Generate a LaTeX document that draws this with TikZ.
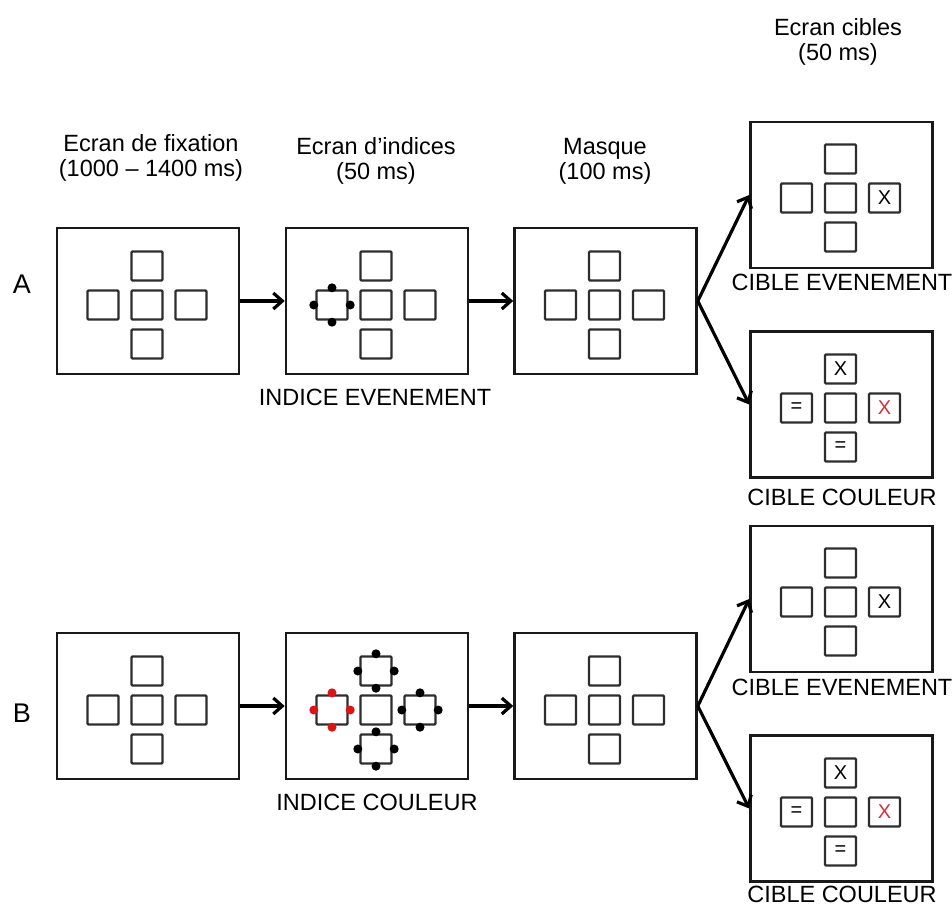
\documentclass[tikz,border=0pt]{standalone}
\usepackage{fontspec}
\setmainfont{Liberation Sans}
\usepackage{tikz}
\usetikzlibrary{arrows.meta,positioning}
\definecolor{framegray}{RGB}{25,25,25}
\definecolor{boxgray}{RGB}{45,45,45}
\definecolor{cuered}{RGB}{222,20,20}
\definecolor{targetred}{RGB}{214,48,62}

\tikzset{
  screen/.style={draw=framegray, line width=2.6pt, minimum width=182pt, minimum height=146pt, inner sep=0pt},
  placebox/.style={draw=boxgray, line width=2.4pt, minimum width=31pt, minimum height=29pt, inner sep=0pt, rounded corners=1pt},
  cuedot/.style={circle, inner sep=0pt, minimum size=9pt},
  glyph/.style={font=\fontsize{20}{20}\selectfont, inner sep=0pt},
  caption/.style={font=\fontsize{23.5}{25}\selectfont, align=center, inner sep=0pt},
  flow/.style={line width=3.2pt, -{Straight Barb[length=9pt,width=16pt]}},
}

% five placeholders in a cross: name, x, y
\newcommand{\placecross}[3]{%
  \node[placebox] (#1-c) at (#2,#3) {};
  \node[placebox] (#1-n) at (#2,#3-39) {};
  \node[placebox] (#1-s) at (#2,#3+39) {};
  \node[placebox] (#1-w) at (#2-44,#3) {};
  \node[placebox] (#1-e) at (#2+44,#3) {};
}
% four cue dots round one placeholder: node, colour
\newcommand{\cuedots}[2]{%
  \node[cuedot, fill=#2] (#1-dn) at ([yshift=1.5pt]#1.north) {};
  \node[cuedot, fill=#2] (#1-ds) at ([yshift=-1.5pt]#1.south) {};
  \node[cuedot, fill=#2] (#1-dw) at ([xshift=-1.5pt]#1.west) {};
  \node[cuedot, fill=#2] (#1-de) at ([xshift=1.5pt]#1.east) {};
}

\begin{document}
\begin{tikzpicture}[x=1pt, y=-1pt]
        \useasboundingbox[fill=white] (0,0) rectangle (952,907);

        % headings
        \node[caption] (h1) at (151,158) {Ecran de fixation\\(1000 – 1400 ms)};
        \node[caption] (h2) at (376,161) {Ecran d’indices\\(50 ms)};
        \node[caption] (h3) at (605,161) {Masque\\(100 ms)};
        \node[caption] (h4) at (838,42) {Ecran cibles\\(50 ms)};

        \node[font=\fontsize{27}{27}\selectfont] (rowA) at (22,284) {A};
        \node[font=\fontsize{27}{27}\selectfont] (rowB) at (22,713) {B};

        % row A
        \node[screen] (a1) at (148,301) {};
        \node[screen] (a2) at (377,301) {};
        \node[screen] (a3) at (605.5,301) {};
        \node[screen] (ta1) at (841.5,195) {};
        \node[screen] (ta2) at (841.5,404.5) {};

        \placecross{a1x}{147}{305}
        \placecross{a2x}{376}{305}
        \placecross{a3x}{604.5}{305}
        \placecross{ta1x}{840.5}{198}
        \placecross{ta2x}{840.5}{408}
        \cuedots{a2x-w}{black}

        \node[glyph] (ta1t) at (ta1x-e) {X};
        \node[glyph] (ta2n) at (ta2x-n) {X};
        \node[glyph, text=targetred] (ta2t) at (ta2x-e) {X};
        \node[glyph] (ta2w) at (ta2x-w) {=};
        \node[glyph] (ta2s) at (ta2x-s) {=};

        \node[caption] (la2) at (375,397) {INDICE EVENEMENT};
        \node[caption] (lta1) at (842,282) {CIBLE EVENEMENT};
        \node[caption] (lta2) at (842,497) {CIBLE COULEUR};

        \draw[flow] (a1) -- (a2);
        \draw[flow] (a2) -- (a3);
        \draw[flow] (a3.east) -- (ta1.west);
        \draw[flow] (a3.east) -- (ta2.west);

        % row B
        \node[screen] (b1) at (148,706) {};
        \node[screen] (b2) at (377,706) {};
        \node[screen] (b3) at (605.5,706) {};
        \node[screen] (tb1) at (841.5,599) {};
        \node[screen] (tb2) at (841.5,808.5) {};

        \placecross{b1x}{147}{710}
        \placecross{b2x}{376}{710}
        \placecross{b3x}{604.5}{710}
        \placecross{tb1x}{840.5}{602}
        \placecross{tb2x}{840.5}{812}
        \cuedots{b2x-n}{black}
        \cuedots{b2x-s}{black}
        \cuedots{b2x-e}{black}
        \cuedots{b2x-w}{cuered}

        \node[glyph] (tb1t) at (tb1x-e) {X};
        \node[glyph] (tb2n) at (tb2x-n) {X};
        \node[glyph, text=targetred] (tb2t) at (tb2x-e) {X};
        \node[glyph] (tb2w) at (tb2x-w) {=};
        \node[glyph] (tb2s) at (tb2x-s) {=};

        \node[caption] (lb2) at (377,802) {INDICE COULEUR};
        \node[caption] (ltb1) at (842,687) {CIBLE EVENEMENT};
        \node[caption] (ltb2) at (842,894) {CIBLE COULEUR};

        \draw[flow] (b1) -- (b2);
        \draw[flow] (b2) -- (b3);
        \draw[flow] (b3.east) -- (tb1.west);
        \draw[flow] (b3.east) -- (tb2.west);
\end{tikzpicture}
\end{document}
